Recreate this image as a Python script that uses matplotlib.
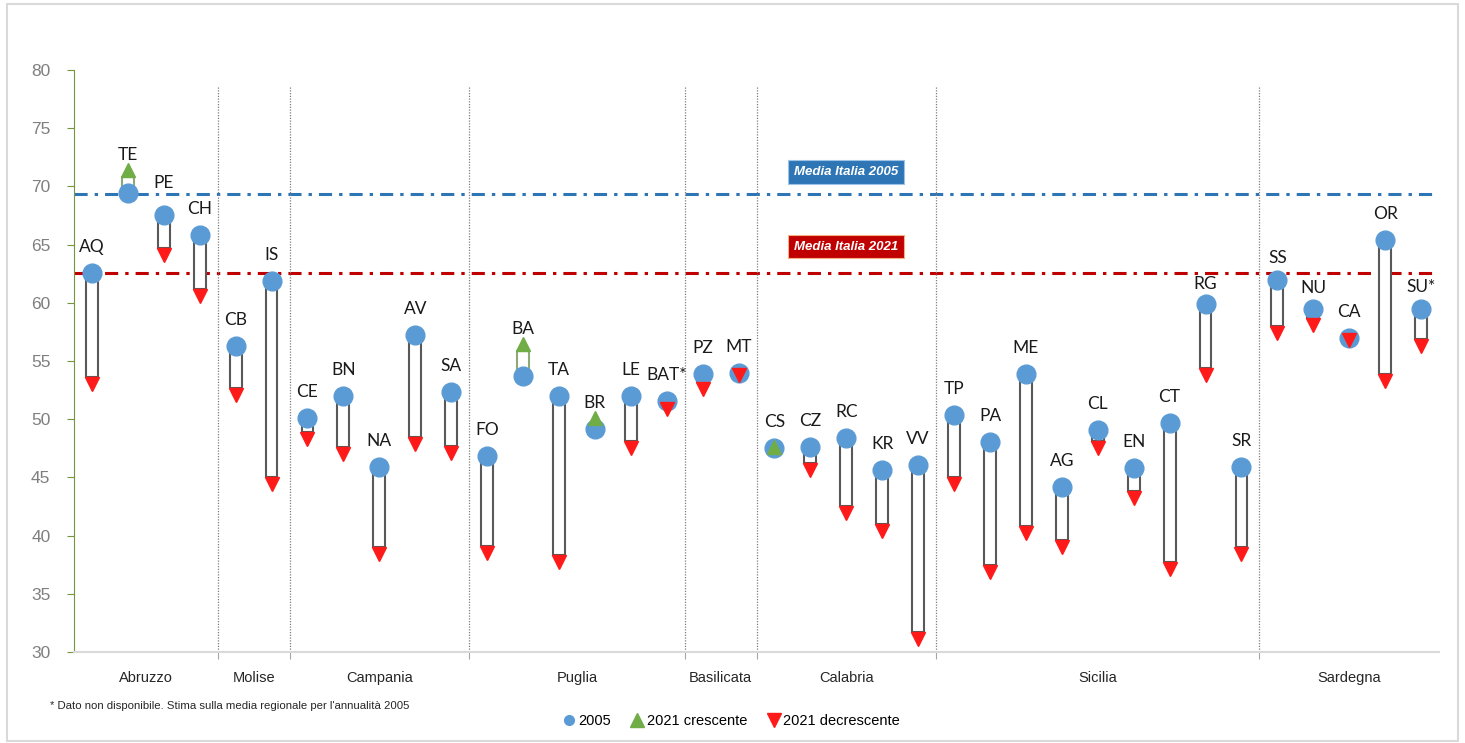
import numpy as np
import matplotlib
matplotlib.use("Agg")
import matplotlib.pyplot as plt
import matplotlib.transforms as mtransforms
from matplotlib.lines import Line2D
from matplotlib.patches import Rectangle

# province codes, grouped by region
province = ["AQ", "TE", "PE", "CH",
            "CB", "IS",
            "CE", "BN", "NA", "AV", "SA",
            "FO", "BA", "TA", "BR", "LE", "BAT*",
            "PZ", "MT",
            "CS", "CZ", "RC", "KR", "VV",
            "TP", "PA", "ME", "AG", "CL", "EN", "CT", "RG", "SR",
            "SS", "NU", "CA", "OR", "SU*"]
regions = ["Abruzzo", "Molise", "Campania", "Puglia", "Basilicata",
           "Calabria", "Sicilia", "Sardegna"]
region_size = [4, 2, 5, 6, 2, 5, 9, 5]

val_2005 = [62.6, 69.4, 67.5, 65.8,
            56.3, 61.9,
            50.1, 52.0, 45.9, 57.2, 52.3,
            46.8, 53.7, 52.0, 49.2, 52.0, 51.6,
            53.9, 54.0,
            47.5, 47.6, 48.4, 45.6, 46.1,
            50.4, 48.0, 53.9, 44.2, 49.1, 45.8, 49.7, 59.9, 45.9,
            62.0, 59.5, 57.0, 65.4, 59.5]
val_2021 = [53.0, 71.4, 64.1, 60.6,
            52.1, 44.4,
            48.3, 47.0, 38.4, 47.9, 47.1,
            38.5, 56.5, 37.7, 50.1, 47.5, 50.9,
            52.6, 53.8,
            47.6, 45.6, 41.9, 40.4, 31.1,
            44.4, 36.9, 40.2, 39.0, 47.5, 43.2, 37.1, 53.8, 38.4,
            57.4, 58.1, 56.8, 53.3, 56.3]

media_2005 = 69.35
media_2021 = 62.6

BLUE = "#5B9BD5"
GREEN = "#70AD47"
RED = "#FF1A1A"

# labels moved by hand in the original so they don't sit on the average lines (pixels)
label_nudge = {"PE": 6, "RG": -6, "NU": -5, "SU*": -4, "SS": -4}

plt.rcParams["font.family"] = ["Liberation Sans", "DejaVu Sans"]

fig = plt.figure(figsize=(14.65, 7.43), dpi=100)
ax = fig.add_axes([74 / 1465, 1 - 652 / 743, (1439 - 74) / 1465, (652 - 70) / 743])

x = np.arange(len(province))
v05 = np.array(val_2005)
v21 = np.array(val_2021)
up = v21 > v05

# bar stops at the base of the triangle (about half a marker above/below the value)
half_tri = 0.6
bar_end = np.where(up, v21 - half_tri, v21 + half_tri)
edge = np.where(up, "#8FA878", "#595959")
ax.bar(x, bar_end - v05, bottom=v05, width=0.33, color="white",
       edgecolor=edge, linewidth=1.5, zorder=2)

ax.plot(x, v05, "o", ms=13.5, color=BLUE, mec=BLUE, ls="none", zorder=3)
ax.plot(x[up], v21[up], "^", ms=10.5, color=GREEN, ls="none", zorder=4)
ax.plot(x[~up], v21[~up], "v", ms=10.5, color=RED, ls="none", zorder=4)

# province labels
for xi, a, b, name in zip(x, v05, v21, province):
    if b - a > 0.5:
        y, off = b, 10
    else:
        y, off = a, 21
    off += label_nudge.get(name, 0)
    ax.annotate(name, (xi, y), xytext=(0, off), textcoords="offset pixels",
                ha="center", va="baseline", fontsize=12.5,
                family=["Lato", "DejaVu Sans"], color="#1a1a1a", zorder=5)

# national averages
ax.axhline(media_2005, color="#2E75B6", lw=2.2, dashes=(4.3, 2.3, 1.1, 2.3), zorder=1)
ax.axhline(media_2021, color="#C00000", lw=2.2, dashes=(4.3, 2.3, 1.1, 2.3), zorder=1)
ax.annotate("Media Italia 2005", (21, media_2005), xytext=(0, 22),
            textcoords="offset pixels", ha="center", va="center",
            fontsize=9.5, fontweight="bold", fontstyle="italic", color="white",
            bbox=dict(boxstyle="square,pad=0.45", fc="#2E75B6", ec="#9DC3E6", lw=0.8))
ax.annotate("Media Italia 2021", (21, media_2021), xytext=(0, 26),
            textcoords="offset pixels", ha="center", va="center",
            fontsize=9.5, fontweight="bold", fontstyle="italic", color="white",
            bbox=dict(boxstyle="square,pad=0.45", fc="#C00000", ec="#F4B183", lw=0.8))

# region separators and names
bounds = np.cumsum(region_size)
ax.vlines(bounds[:-1] - 0.5, 30, 78.5, colors="#7F7F7F", linestyles=(0, (1, 1.2)),
          lw=0.9, zorder=1)
ax.set_xticks(bounds[:-1] - 0.5)
ax.set_xticklabels([])
ax.tick_params(axis="x", length=5, color="#A6A6A6", width=0.8)
trans = mtransforms.blended_transform_factory(ax.transData, ax.transAxes)
starts = bounds - np.array(region_size)
for s, e, name in zip(starts, bounds, regions):
    ax.text((s + e - 1) / 2, -0.045, name, transform=trans, ha="center",
            va="center", fontsize=10.5, color="#262626")

ax.set_xlim(-0.5, len(province) - 0.5)
ax.set_ylim(30, 80)
ax.set_yticks(range(30, 81, 5))
ax.tick_params(axis="y", length=5, color="#77933C", labelcolor="#7F7F7F",
               labelsize=12.5, pad=12)
for side in ["top", "right"]:
    ax.spines[side].set_visible(False)
ax.spines["left"].set_color("#77933C")
ax.spines["bottom"].set_color("#D9D9D9")
ax.spines["bottom"].set_linewidth(1.5)

fig.text(50 / 1465, 1 - 706 / 743,
         "* Dato non disponibile. Stima sulla media regionale per l'annualità 2005",
         fontsize=8.2, va="center", color="#262626")

handles = [Line2D([], [], marker="o", ls="none", color=BLUE, ms=7),
           Line2D([], [], marker="^", ls="none", color=GREEN, ms=10),
           Line2D([], [], marker="v", ls="none", color=RED, ms=10)]
fig.legend(handles, ["2005", "2021 crescente", "2021 decrescente"],
           loc="center", bbox_to_anchor=(730 / 1465, 1 - 721 / 743), ncol=3,
           frameon=False, fontsize=10.5, handletextpad=0.05, columnspacing=1.2,
           handlelength=1.2)

fig.patches.append(Rectangle((7 / 1465, 2 / 743), 1451 / 1465, 737 / 743,
                             transform=fig.transFigure, fill=False,
                             ec="#D9D9D9", lw=1.5))

fig.savefig("out.png", dpi=100)
